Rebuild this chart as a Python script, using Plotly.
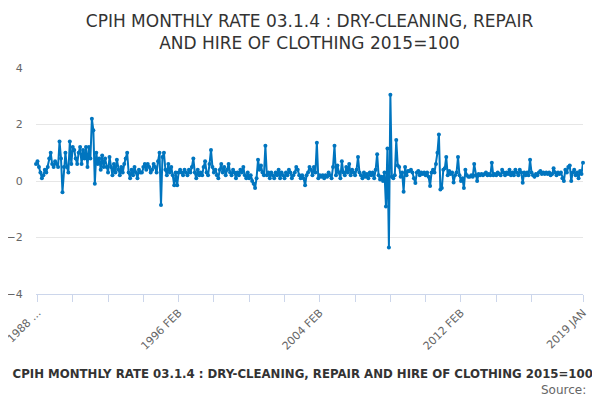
import plotly.graph_objects as go

# monthly rate, %, Jan 1988 .. Jan 2019
rate_1988_1995 = [
    0.6, 0.7, 0.5, 0.3, 0.1, 0.2, 0.4, 0.3, 0.5, 0.8, 1.0, 0.6,
    0.5, 0.7, 0.6, 0.5, 1.4, 0.8, -0.4, 0.5, 1.0, 0.5, 0.3, 1.4,
    0.6, 1.2, 1.1, 0.8, 0.6, 1.0, 1.2, 0.6, 1.1, 0.8, 1.2, 0.5,
    1.2, 0.8, 2.2, 1.8, -0.1, 1.0, 0.6, 0.8, 0.4, 0.9, 0.5, 0.8,
    0.5, 0.3, 0.85, 0.5, 0.2, 0.6, 0.3, 0.75, 0.4, 0.2, 0.5, 0.3,
    0.6, 0.8, 1.0, 0.3, 0.1, 0.4, 0.2, 0.5, 0.3, 0.1, 0.4, 0.3,
    0.3, 0.5, 0.6, 0.4, 0.6, 0.5, 0.3, 0.4, 0.6, 0.5, 0.3, 0.7,
    1.0, -0.85, 0.85, 1.0, 0.4, 0.2, 0.6, 0.3, 0.5, 0.2, -0.15, 0.3,
]
rate_1996_2003 = [
    -0.15, 0.3, 0.4, 0.3, 0.2, 0.4, 0.3, 0.2, 0.4, 0.3, 0.5, 0.8,
    0.3, 0.1, 0.4, 0.2, 0.3, 0.2, 0.5, 0.7, 0.3, 0.2, 0.6, 1.1,
    0.5, 0.3, 0.4, 0.2, 0.1, 0.4, 0.6, 0.3, 0.5, 0.2, 0.4, 0.6,
    0.3, 0.2, 0.4, 0.3, 0.1, 0.3, 0.2, 0.4, 0.3, 0.5, 0.2, 0.1,
    0.3, 0.1, 0.2, 0.0, -0.1, -0.25, 0.1, 0.75, 0.4, 0.55, 0.3, 0.2,
    1.25, 0.2, 0.3, 0.1, 0.3, 0.2, 0.1, 0.3, 0.2, 0.4, 0.1, 0.3,
    0.2, 0.1, 0.3, 0.2, 0.4, 0.3, 0.1, 0.2, 0.3, 0.5, 0.4, 0.2,
    0.1, 0.2, 0.1, -0.15, 0.2, 0.3, 0.5, 0.4, 0.2, 0.5, 0.3, 1.35,
]
rate_2004_2011 = [
    0.1, 0.2, 0.15, 0.2, 0.1, 0.2, 0.15, 0.3, 0.2, 0.1, 0.5, 1.25,
    0.2, 0.55, 0.3, 0.1, 0.7, 0.3, 0.2, 0.5, 0.3, 0.6, 0.2, 0.4,
    0.3, 0.2, 0.4, 0.85, 0.3, 0.2, 0.1, 0.3, 0.15, 0.25, 0.1, 0.3,
    0.2, 0.3, 0.1, 0.4, 0.95, 0.2, 0.05, 0.15, 0.0, 0.3, -0.9, 1.15,
    -2.35, 3.05, 0.15, 0.1, 0.2, 1.45, 0.55, 0.5, 0.15, 0.3, -0.38, 0.5,
    0.2, 0.35, 0.35, 0.4, 0.3, 0.1, -0.07, 0.3, 0.35, 0.2, 0.3, 0.25,
    0.3, 0.2, 0.3, 0.15, -0.18, 0.3, 0.4, 0.3, 0.6, 1.0, 1.65, -0.3,
    -0.25, 0.4, 0.45, 0.85, 0.2, 0.35, 0.25, 0.3, -0.05, 0.2, 0.3, 0.85,
]
rate_2012_2019 = [
    0.2, 0.0, 0.1, -0.25, 0.4, 0.2, 0.15, 0.15, 0.2, 0.15, 0.6, 0.2,
    0.0, 0.25, 0.2, 0.25, 0.2, 0.25, 0.3, 0.2, 0.25, 0.2, 0.65, 0.2,
    0.25, 0.2, 0.3, 0.25, 0.2, 0.4, 0.3, 0.2, 0.3, 0.25, 0.4, 0.2,
    0.3, 0.2, 0.4, 0.3, 0.2, 0.4, 0.3, -0.06, 0.3, 0.2, 0.3, 0.2,
    0.75, 0.3, 0.2, 0.15, 0.25, 0.2, 0.3, 0.35, 0.25, 0.3, 0.25, 0.3,
    0.25, 0.3, 0.2, 0.25, 0.45, 0.3, 0.2, 0.3, 0.25, 0.3, 0.1, 0.0,
    0.4, 0.3, 0.5, 0.55, 0.0, 0.3, 0.4, 0.2, 0.3, 0.1, 0.35, 0.25,
    0.65,
]
values = rate_1988_1995 + rate_1996_2003 + rate_2004_2011 + rate_2012_2019

month_names = ["JAN", "FEB", "MAR", "APR", "MAY", "JUN",
               "JUL", "AUG", "SEP", "OCT", "NOV", "DEC"]
months = [f"{y} {m}" for y in range(1988, 2019) for m in month_names] + ["2019 JAN"]

# tick every 24 months, label every 96
tick_idx = list(range(1, 338, 24)) + [len(months) - 1]
labelled = {1: "1988 ...", 97: "1996 FEB", 193: "2004 FEB", 289: "2012 FEB", 372: "2019 JAN"}
tick_text = [labelled.get(i, "") for i in tick_idx]

series_name = "CPIH MONTHLY RATE 03.1.4 : DRY-CLEANING, REPAIR AND HIRE OF CLOTHING 2015=100"
blue = "#0075bf"

fig = go.Figure()
fig.add_trace(go.Scatter(
    x=months, y=values, mode="lines+markers", name=series_name,
    line=dict(color=blue, width=2),
    marker=dict(color=blue, size=4),
    cliponaxis=False,
))

# the page body adds an 8px margin, so the figure is 8px smaller
fig.update_layout(
    width=592, height=392,
    margin=dict(l=28, r=17, t=60, b=106, autoexpand=False),
    paper_bgcolor="white", plot_bgcolor="white",
    font=dict(family="DejaVu Sans", color="#666666", size=11),
    title=dict(
        text="CPIH MONTHLY RATE 03.1.4 : DRY-CLEANING, REPAIR<br>AND HIRE OF CLOTHING 2015=100",
        x=0.5, xanchor="center", xref="paper",
        y=0.952, yanchor="top", yref="container",
        font=dict(family="DejaVu Sans", size=17, color="#333333"),
    ),
    showlegend=True,
    legend=dict(
        orientation="h", x=-0.116, xanchor="left", y=-0.35, yanchor="middle",
        font=dict(family="DejaVu Sans", size=11.75, color="#333333", weight="bold"),
        itemwidth=30, bgcolor="rgba(0,0,0,0)",
    ),
)

fig.update_xaxes(
    type="category", range=[0, len(months) - 1],
    tickmode="array", tickvals=[months[i] for i in tick_idx], ticktext=tick_text,
    tickangle=-45, ticks="outside", ticklen=7, tickcolor="#ccd6eb",
    showline=True, linecolor="#ccd6eb", linewidth=1,
    showgrid=False, zeroline=False,
    tickfont=dict(size=11, color="#666666"),
)
# invisible ticks push the y labels away from the plot edge
fig.update_yaxes(
    range=[-4, 4], tickvals=[-4, -2, 0, 2, 4],
    showgrid=True, gridcolor="#e6e6e6", zeroline=False,
    ticks="outside", ticklen=10, tickcolor="white",
    tickfont=dict(size=11, color="#666666"),
)

fig.add_annotation(
    text="Source:", xref="paper", yref="paper", x=1.01, y=-0.425,
    xanchor="right", yanchor="middle", showarrow=False,
    font=dict(family="DejaVu Sans", size=12, color="#666666"),
)

fig.write_html("out.html")
